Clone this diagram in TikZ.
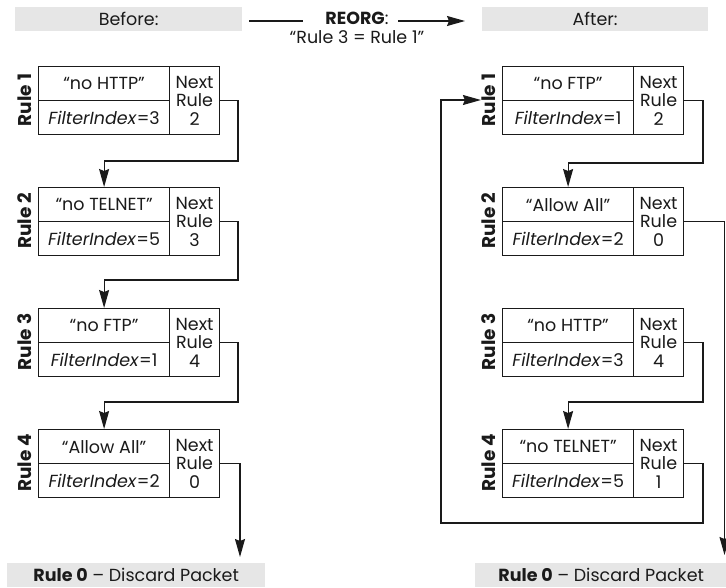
\documentclass[tikz,border=0pt]{standalone}
\usepackage{fontspec}
\setmainfont{Poppins}
\usetikzlibrary{arrows.meta,calc}
\definecolor{barcol}{HTML}{E6E6E6}
\definecolor{inkcol}{HTML}{1A1A1A}

% one rule record: label, two stacked cells and the "Next Rule" cell
% #1 name, #2 x, #3 y (top left), #4 text, #5 filter index, #6 next rule, #7 rule number
\newcommand\ruleblock[7]{%
  \node[cell, minimum width=131pt, minimum height=34pt, anchor=north west] (#1t) at (#2,#3) {#4};
  \node[cell, minimum width=131pt, minimum height=34pt, anchor=north west] (#1f) at (#2,#3+34) {\textit{FilterIndex}=#5};
  \node[cell, minimum width=50pt, minimum height=68pt, anchor=north west, align=center, font=\fontsize{17.5}{18.5}\selectfont] (#1n) at (#2+131,#3) {Next\\Rule\\#6};
  \node[lbl, rotate=90] (#1l) at (#2-13,#3+34) {Rule #7};
}

\begin{document}
\begin{tikzpicture}[x=1pt,y=-1pt,
  every node/.style={text=inkcol, font=\fontsize{17.5}{19}\selectfont},
  cell/.style={draw=inkcol, line width=1.2pt, inner sep=0pt},
  lbl/.style={font=\fontsize{18.5}{20}\selectfont\bfseries, inner sep=1pt},
  bar/.style={fill=barcol, draw=none, inner sep=0pt, anchor=north west},
  conn/.style={draw=inkcol, line width=1.2pt, -{Stealth[length=18pt,width=10pt,inset=2pt]}},
  plain/.style={draw=inkcol, line width=1.2pt}]
\useasboundingbox (0,0) rectangle (726,587);

% headers
\node[bar, minimum width=227pt, minimum height=24pt] (before) at (15,7) {Before:};
\node[bar, minimum width=226pt, minimum height=24pt] (after) at (482,7) {After:};
\node[align=center, inner sep=0pt] (reorg) at (357,28) {\textbf{REORG}:\\“Rule 3 = Rule 1”};
\coordinate (ra) at (249,21);
\coordinate (rb) at (303,21);
\coordinate (rc) at (398,21);
\coordinate (rd) at (465,21);
\draw[plain] (ra) -- (rb);
\draw[conn] (rc) -- (rd);

% footers
\node[bar, minimum width=258pt, minimum height=24pt] (L0) at (7,563) {\textbf{Rule 0} – Discard Packet};
\node[bar, minimum width=252pt, minimum height=24pt] (R0) at (475,563) {\textbf{Rule 0} – Discard Packet};

% rule chain before reorganisation
\ruleblock{L1}{38}{66}{“no HTTP”}{3}{2}{1}
\ruleblock{L2}{38}{187}{“no TELNET”}{5}{3}{2}
\ruleblock{L3}{38}{308}{“no FTP”}{1}{4}{3}
\ruleblock{L4}{38}{429}{“Allow All”}{2}{0}{4}

% rule chain after reorganisation
\ruleblock{R1}{502}{66}{“no FTP”}{1}{2}{1}
\ruleblock{R2}{502}{187}{“Allow All”}{2}{0}{2}
\ruleblock{R3}{502}{308}{“no HTTP”}{3}{4}{3}
\ruleblock{R4}{502}{429}{“no TELNET”}{5}{1}{4}

% links before
\draw[conn] (L1n.east) -| (238,161) -| (L2t.north);
\draw[conn] (L2n.east) -| (238,280) -| (L3t.north);
\draw[conn] (L3n.east) -| (238,402) -| (L4t.north);
\coordinate (L0in) at (240,557);
\draw[conn] (L4n.east) -| (L0in);

% links after
\draw[conn] (R1n.east) -| (703,163) -| (R2t.north);
\draw[conn] (R3n.east) -| (703,402) -| (R4t.north);
\coordinate (R0in) at (724.5,555);
\draw[conn] (R2n.east) -| (R0in);
\draw[conn] (R4n.east) -| (703,523) -| (441,100) -- (R1l.north);
\end{tikzpicture}
\end{document}
